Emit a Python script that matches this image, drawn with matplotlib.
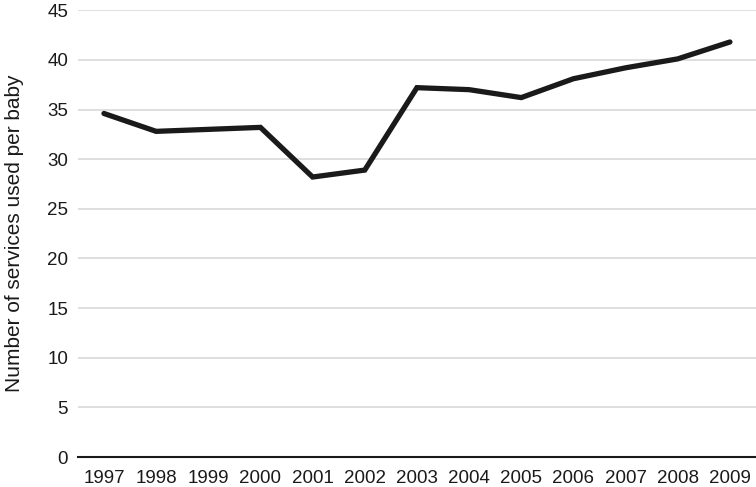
import matplotlib
matplotlib.use("Agg")
import matplotlib.pyplot as plt

plt.rcParams["font.family"] = ["Liberation Sans", "DejaVu Sans"]

years = ["1997", "1998", "1999", "2000", "2001", "2002", "2003",
         "2004", "2005", "2006", "2007", "2008", "2009"]
services = [34.6, 32.8, 33.0, 33.2, 28.2, 28.9, 37.2,
            37.0, 36.2, 38.1, 39.2, 40.1, 41.8]

fig = plt.figure(figsize=(7.56, 4.87), dpi=100)
ax = fig.add_axes([0.103, 0.0616, 0.897, 0.9174])

x = range(len(years))
ax.plot(x, services, color="#1a1a1a", linewidth=3.8, solid_capstyle="round",
        solid_joinstyle="miter", zorder=3)

ax.set_xlim(-0.5, len(years) - 0.5)
ax.set_ylim(0, 45)
ax.set_yticks(range(0, 46, 5))
ax.set_xticks(list(x))
ax.set_xticklabels(years)
ax.yaxis.grid(True, color="#dcdcdc", linewidth=1.3)
ax.set_axisbelow(True)
for side in ("top", "right", "left"):
    ax.spines[side].set_visible(False)
ax.spines["bottom"].set_color("#1a1a1a")
ax.spines["bottom"].set_linewidth(1.5)
ax.tick_params(axis="both", length=0, labelsize=13.5, colors="#1a1a1a")
ax.tick_params(axis="y", pad=7)
ax.tick_params(axis="x", pad=9)
ax.set_ylabel("Number of services used per baby", fontsize=15,
              color="#1a1a1a", labelpad=17)

fig.savefig("out.png", dpi=100)
